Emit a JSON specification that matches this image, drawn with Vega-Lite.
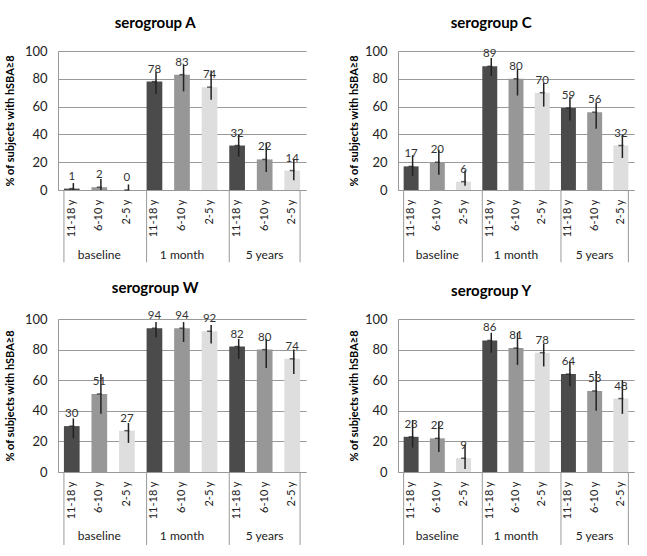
{
  "$schema": "https://vega.github.io/schema/vega-lite/v6.json",
  "padding": {"left": 4, "top": 16, "right": 5, "bottom": 5},
  "background": "white",
  "config": {
    "font": "Lato",
    "view": {"stroke": null},
    "axis": {"labelFont": "Lato", "titleFont": "Lato"}
  },
  "datasets": {
    "bars": [
      {"panel": "A", "time": "baseline", "age": "11-18 y", "key": "baseline|11-18 y", "value": 1, "lo": 0, "hi": 5},
      {"panel": "A", "time": "baseline", "age": "6-10 y", "key": "baseline|6-10 y", "value": 2, "lo": 0, "hi": 8},
      {"panel": "A", "time": "baseline", "age": "2-5 y", "key": "baseline|2-5 y", "value": 0, "lo": 0, "hi": 4},
      {"panel": "A", "time": "1 month", "age": "11-18 y", "key": "1 month|11-18 y", "value": 78, "lo": 69, "hi": 85},
      {"panel": "A", "time": "1 month", "age": "6-10 y", "key": "1 month|6-10 y", "value": 83, "lo": 71, "hi": 90},
      {"panel": "A", "time": "1 month", "age": "2-5 y", "key": "1 month|2-5 y", "value": 74, "lo": 65, "hi": 86},
      {"panel": "A", "time": "5 years", "age": "11-18 y", "key": "5 years|11-18 y", "value": 32, "lo": 24, "hi": 40},
      {"panel": "A", "time": "5 years", "age": "6-10 y", "key": "5 years|6-10 y", "value": 22, "lo": 13, "hi": 34},
      {"panel": "A", "time": "5 years", "age": "2-5 y", "key": "5 years|2-5 y", "value": 14, "lo": 7, "hi": 22},
      {"panel": "C", "time": "baseline", "age": "11-18 y", "key": "baseline|11-18 y", "value": 17, "lo": 10, "hi": 25},
      {"panel": "C", "time": "baseline", "age": "6-10 y", "key": "baseline|6-10 y", "value": 20, "lo": 11, "hi": 29},
      {"panel": "C", "time": "baseline", "age": "2-5 y", "key": "baseline|2-5 y", "value": 6, "lo": 3, "hi": 14},
      {"panel": "C", "time": "1 month", "age": "11-18 y", "key": "1 month|11-18 y", "value": 89, "lo": 82, "hi": 95},
      {"panel": "C", "time": "1 month", "age": "6-10 y", "key": "1 month|6-10 y", "value": 80, "lo": 68, "hi": 87},
      {"panel": "C", "time": "1 month", "age": "2-5 y", "key": "1 month|2-5 y", "value": 70, "lo": 60, "hi": 77},
      {"panel": "C", "time": "5 years", "age": "11-18 y", "key": "5 years|11-18 y", "value": 59, "lo": 50, "hi": 67},
      {"panel": "C", "time": "5 years", "age": "6-10 y", "key": "5 years|6-10 y", "value": 56, "lo": 44, "hi": 63},
      {"panel": "C", "time": "5 years", "age": "2-5 y", "key": "5 years|2-5 y", "value": 32, "lo": 23, "hi": 40},
      {"panel": "W", "time": "baseline", "age": "11-18 y", "key": "baseline|11-18 y", "value": 30, "lo": 22, "hi": 35},
      {"panel": "W", "time": "baseline", "age": "6-10 y", "key": "baseline|6-10 y", "value": 51, "lo": 38, "hi": 64},
      {"panel": "W", "time": "baseline", "age": "2-5 y", "key": "baseline|2-5 y", "value": 27, "lo": 19, "hi": 32},
      {"panel": "W", "time": "1 month", "age": "11-18 y", "key": "1 month|11-18 y", "value": 94, "lo": 88, "hi": 98},
      {"panel": "W", "time": "1 month", "age": "6-10 y", "key": "1 month|6-10 y", "value": 94, "lo": 85, "hi": 98},
      {"panel": "W", "time": "1 month", "age": "2-5 y", "key": "1 month|2-5 y", "value": 92, "lo": 84, "hi": 96},
      {"panel": "W", "time": "5 years", "age": "11-18 y", "key": "5 years|11-18 y", "value": 82, "lo": 74, "hi": 87},
      {"panel": "W", "time": "5 years", "age": "6-10 y", "key": "5 years|6-10 y", "value": 80, "lo": 68, "hi": 87},
      {"panel": "W", "time": "5 years", "age": "2-5 y", "key": "5 years|2-5 y", "value": 74, "lo": 64, "hi": 80},
      {"panel": "Y", "time": "baseline", "age": "11-18 y", "key": "baseline|11-18 y", "value": 23, "lo": 16, "hi": 34},
      {"panel": "Y", "time": "baseline", "age": "6-10 y", "key": "baseline|6-10 y", "value": 22, "lo": 13, "hi": 33},
      {"panel": "Y", "time": "baseline", "age": "2-5 y", "key": "baseline|2-5 y", "value": 9, "lo": 2, "hi": 18},
      {"panel": "Y", "time": "1 month", "age": "11-18 y", "key": "1 month|11-18 y", "value": 86, "lo": 78, "hi": 91},
      {"panel": "Y", "time": "1 month", "age": "6-10 y", "key": "1 month|6-10 y", "value": 81, "lo": 70, "hi": 91},
      {"panel": "Y", "time": "1 month", "age": "2-5 y", "key": "1 month|2-5 y", "value": 78, "lo": 69, "hi": 84},
      {"panel": "Y", "time": "5 years", "age": "11-18 y", "key": "5 years|11-18 y", "value": 64, "lo": 56, "hi": 72},
      {"panel": "Y", "time": "5 years", "age": "6-10 y", "key": "5 years|6-10 y", "value": 53, "lo": 40, "hi": 66},
      {"panel": "Y", "time": "5 years", "age": "2-5 y", "key": "5 years|2-5 y", "value": 48, "lo": 38, "hi": 60}
    ]
  },
  "spacing": 18,
  "vconcat": [
    {
      "spacing": 42,
      "hconcat": [
        {
          "data": {"name": "bars"},
          "transform": [{"filter": "datum.panel == 'A'"}],
          "width": 248, "height": 139,
          "title": {"text": "serogroup A", "fontSize": 15, "fontWeight": "bold", "anchor": "middle", "frame": "bounds", "offset": 14, "color": "#000"},
          "encoding": {
            "x": {"field": "key", "type": "nominal", "sort": null,
              "scale": {"paddingInner": 0.43, "paddingOuter": 0.215},
              "axis": {"title": null, "labelExpr": "split(datum.label, '|')[1]", "labelAngle": 270, "ticks": false, "labelPadding": 9, "labelFontSize": 11, "labelColor": "#222", "domainColor": "#999"}},
            "y": {"type": "quantitative", "scale": {"domain": [0, 100], "nice": false},
              "axis": {"title": "% of subjects with hSBA≥8", "titleFontSize": 11, "titleFontWeight": "bold", "titleColor": "#000", "titlePadding": 9, "values": [0, 20, 40, 60, 80, 100], "ticks": false, "labelPadding": 11, "labelFontSize": 13, "labelColor": "#222", "gridColor": "#999", "domainColor": "#999"}}
          },
          "layer": [
            {"mark": {"type": "bar"}, "encoding": {"y": {"field": "value", "type": "quantitative"}, "color": {"field": "age", "type": "nominal", "legend": null, "scale": {"domain": ["11-18 y", "6-10 y", "2-5 y"], "range": ["#4b4b4b", "#979797", "#dedede"]}}}},
            {"mark": {"type": "rule", "color": "#222", "strokeWidth": 1.5}, "encoding": {"x": {"field": "key", "type": "nominal", "sort": null, "bandPosition": 0.6}, "y": {"field": "lo", "type": "quantitative"}, "y2": {"field": "hi"}}},
            {"mark": {"type": "tick", "color": "#222", "size": 5, "thickness": 1.5}, "encoding": {"x": {"field": "key", "type": "nominal", "sort": null, "bandPosition": 0.66}, "y": {"field": "value", "type": "quantitative"}}},
            {"mark": {"type": "text", "baseline": "bottom", "dy": -7, "fontSize": 11.5, "fill": "#333"}, "encoding": {"y": {"field": "value", "type": "quantitative"}, "text": {"field": "value", "type": "quantitative"}}},
            {"transform": [{"filter": "datum.age == '11-18 y'"}], "mark": {"type": "rule", "color": "#999", "strokeWidth": 1}, "encoding": {"x": {"field": "key", "type": "nominal", "sort": null, "bandPosition": 0}, "y": {"datum": 0}, "y2": {"datum": -52}}},
            {"transform": [{"filter": "datum.key == '5 years|2-5 y'"}], "mark": {"type": "rule", "color": "#999", "strokeWidth": 1}, "encoding": {"x": {"field": "key", "type": "nominal", "sort": null, "bandPosition": 1}, "y": {"datum": 0}, "y2": {"datum": -52}}},
            {"transform": [{"filter": "datum.age == '6-10 y'"}], "mark": {"type": "text", "baseline": "middle", "fontSize": 12, "fill": "#222"}, "encoding": {"y": {"datum": -46.5}, "text": {"field": "time", "type": "nominal"}}}
          ]
        },
        {
          "data": {"name": "bars"},
          "transform": [{"filter": "datum.panel == 'C'"}],
          "width": 236, "height": 139,
          "title": {"text": "serogroup C", "fontSize": 15, "fontWeight": "bold", "anchor": "middle", "frame": "bounds", "offset": 14, "color": "#000"},
          "encoding": {
            "x": {"field": "key", "type": "nominal", "sort": null,
              "scale": {"paddingInner": 0.43, "paddingOuter": 0.215},
              "axis": {"title": null, "labelExpr": "split(datum.label, '|')[1]", "labelAngle": 270, "ticks": false, "labelPadding": 9, "labelFontSize": 11, "labelColor": "#222", "domainColor": "#999"}},
            "y": {"type": "quantitative", "scale": {"domain": [0, 100], "nice": false},
              "axis": {"title": "% of subjects with hSBA≥8", "titleFontSize": 11, "titleFontWeight": "bold", "titleColor": "#000", "titlePadding": 5, "values": [0, 20, 40, 60, 80, 100], "ticks": false, "labelPadding": 11, "labelFontSize": 13, "labelColor": "#222", "gridColor": "#999", "domainColor": "#999"}}
          },
          "layer": [
            {"mark": {"type": "bar"}, "encoding": {"y": {"field": "value", "type": "quantitative"}, "color": {"field": "age", "type": "nominal", "legend": null, "scale": {"domain": ["11-18 y", "6-10 y", "2-5 y"], "range": ["#4b4b4b", "#979797", "#dedede"]}}}},
            {"mark": {"type": "rule", "color": "#222", "strokeWidth": 1.5}, "encoding": {"x": {"field": "key", "type": "nominal", "sort": null, "bandPosition": 0.6}, "y": {"field": "lo", "type": "quantitative"}, "y2": {"field": "hi"}}},
            {"mark": {"type": "tick", "color": "#222", "size": 5, "thickness": 1.5}, "encoding": {"x": {"field": "key", "type": "nominal", "sort": null, "bandPosition": 0.66}, "y": {"field": "value", "type": "quantitative"}}},
            {"mark": {"type": "text", "baseline": "bottom", "dy": -7, "fontSize": 11.5, "fill": "#333"}, "encoding": {"y": {"field": "value", "type": "quantitative"}, "text": {"field": "value", "type": "quantitative"}}},
            {"transform": [{"filter": "datum.age == '11-18 y'"}], "mark": {"type": "rule", "color": "#999", "strokeWidth": 1}, "encoding": {"x": {"field": "key", "type": "nominal", "sort": null, "bandPosition": 0}, "y": {"datum": 0}, "y2": {"datum": -52}}},
            {"transform": [{"filter": "datum.key == '5 years|2-5 y'"}], "mark": {"type": "rule", "color": "#999", "strokeWidth": 1}, "encoding": {"x": {"field": "key", "type": "nominal", "sort": null, "bandPosition": 1}, "y": {"datum": 0}, "y2": {"datum": -52}}},
            {"transform": [{"filter": "datum.age == '6-10 y'"}], "mark": {"type": "text", "baseline": "middle", "fontSize": 12, "fill": "#222"}, "encoding": {"y": {"datum": -46.5}, "text": {"field": "time", "type": "nominal"}}}
          ]
        }
      ]
    },
    {
      "spacing": 42,
      "hconcat": [
        {
          "data": {"name": "bars"},
          "transform": [{"filter": "datum.panel == 'W'"}],
          "width": 248, "height": 153,
          "title": {"text": "serogroup W", "fontSize": 15, "fontWeight": "bold", "anchor": "middle", "frame": "bounds", "offset": 14, "color": "#000"},
          "encoding": {
            "x": {"field": "key", "type": "nominal", "sort": null,
              "scale": {"paddingInner": 0.43, "paddingOuter": 0.215},
              "axis": {"title": null, "labelExpr": "split(datum.label, '|')[1]", "labelAngle": 270, "ticks": false, "labelPadding": 9, "labelFontSize": 11, "labelColor": "#222", "domainColor": "#999"}},
            "y": {"type": "quantitative", "scale": {"domain": [0, 100], "nice": false},
              "axis": {"title": "% of subjects with hSBA≥8", "titleFontSize": 11, "titleFontWeight": "bold", "titleColor": "#000", "titlePadding": 9, "values": [0, 20, 40, 60, 80, 100], "ticks": false, "labelPadding": 11, "labelFontSize": 13, "labelColor": "#222", "gridColor": "#999", "domainColor": "#999"}}
          },
          "layer": [
            {"mark": {"type": "bar"}, "encoding": {"y": {"field": "value", "type": "quantitative"}, "color": {"field": "age", "type": "nominal", "legend": null, "scale": {"domain": ["11-18 y", "6-10 y", "2-5 y"], "range": ["#4b4b4b", "#979797", "#dedede"]}}}},
            {"mark": {"type": "rule", "color": "#222", "strokeWidth": 1.5}, "encoding": {"x": {"field": "key", "type": "nominal", "sort": null, "bandPosition": 0.6}, "y": {"field": "lo", "type": "quantitative"}, "y2": {"field": "hi"}}},
            {"mark": {"type": "tick", "color": "#222", "size": 5, "thickness": 1.5}, "encoding": {"x": {"field": "key", "type": "nominal", "sort": null, "bandPosition": 0.66}, "y": {"field": "value", "type": "quantitative"}}},
            {"mark": {"type": "text", "baseline": "bottom", "dy": -7, "fontSize": 11.5, "fill": "#333"}, "encoding": {"y": {"field": "value", "type": "quantitative"}, "text": {"field": "value", "type": "quantitative"}}},
            {"transform": [{"filter": "datum.age == '11-18 y'"}], "mark": {"type": "rule", "color": "#999", "strokeWidth": 1}, "encoding": {"x": {"field": "key", "type": "nominal", "sort": null, "bandPosition": 0}, "y": {"datum": 0}, "y2": {"datum": -47.7}}},
            {"transform": [{"filter": "datum.key == '5 years|2-5 y'"}], "mark": {"type": "rule", "color": "#999", "strokeWidth": 1}, "encoding": {"x": {"field": "key", "type": "nominal", "sort": null, "bandPosition": 1}, "y": {"datum": 0}, "y2": {"datum": -47.7}}},
            {"transform": [{"filter": "datum.age == '6-10 y'"}], "mark": {"type": "text", "baseline": "middle", "fontSize": 12, "fill": "#222"}, "encoding": {"y": {"datum": -42}, "text": {"field": "time", "type": "nominal"}}}
          ]
        },
        {
          "data": {"name": "bars"},
          "transform": [{"filter": "datum.panel == 'Y'"}],
          "width": 236, "height": 153,
          "title": {"text": "serogroup Y", "fontSize": 15, "fontWeight": "bold", "anchor": "middle", "frame": "bounds", "offset": 14, "color": "#000"},
          "encoding": {
            "x": {"field": "key", "type": "nominal", "sort": null,
              "scale": {"paddingInner": 0.43, "paddingOuter": 0.215},
              "axis": {"title": null, "labelExpr": "split(datum.label, '|')[1]", "labelAngle": 270, "ticks": false, "labelPadding": 9, "labelFontSize": 11, "labelColor": "#222", "domainColor": "#999"}},
            "y": {"type": "quantitative", "scale": {"domain": [0, 100], "nice": false},
              "axis": {"title": "% of subjects with hSBA≥8", "titleFontSize": 11, "titleFontWeight": "bold", "titleColor": "#000", "titlePadding": 5, "values": [0, 20, 40, 60, 80, 100], "ticks": false, "labelPadding": 11, "labelFontSize": 13, "labelColor": "#222", "gridColor": "#999", "domainColor": "#999"}}
          },
          "layer": [
            {"mark": {"type": "bar"}, "encoding": {"y": {"field": "value", "type": "quantitative"}, "color": {"field": "age", "type": "nominal", "legend": null, "scale": {"domain": ["11-18 y", "6-10 y", "2-5 y"], "range": ["#4b4b4b", "#979797", "#dedede"]}}}},
            {"mark": {"type": "rule", "color": "#222", "strokeWidth": 1.5}, "encoding": {"x": {"field": "key", "type": "nominal", "sort": null, "bandPosition": 0.6}, "y": {"field": "lo", "type": "quantitative"}, "y2": {"field": "hi"}}},
            {"mark": {"type": "tick", "color": "#222", "size": 5, "thickness": 1.5}, "encoding": {"x": {"field": "key", "type": "nominal", "sort": null, "bandPosition": 0.66}, "y": {"field": "value", "type": "quantitative"}}},
            {"mark": {"type": "text", "baseline": "bottom", "dy": -7, "fontSize": 11.5, "fill": "#333"}, "encoding": {"y": {"field": "value", "type": "quantitative"}, "text": {"field": "value", "type": "quantitative"}}},
            {"transform": [{"filter": "datum.age == '11-18 y'"}], "mark": {"type": "rule", "color": "#999", "strokeWidth": 1}, "encoding": {"x": {"field": "key", "type": "nominal", "sort": null, "bandPosition": 0}, "y": {"datum": 0}, "y2": {"datum": -47.7}}},
            {"transform": [{"filter": "datum.key == '5 years|2-5 y'"}], "mark": {"type": "rule", "color": "#999", "strokeWidth": 1}, "encoding": {"x": {"field": "key", "type": "nominal", "sort": null, "bandPosition": 1}, "y": {"datum": 0}, "y2": {"datum": -47.7}}},
            {"transform": [{"filter": "datum.age == '6-10 y'"}], "mark": {"type": "text", "baseline": "middle", "fontSize": 12, "fill": "#222"}, "encoding": {"y": {"datum": -42}, "text": {"field": "time", "type": "nominal"}}}
          ]
        }
      ]
    }
  ]
}
